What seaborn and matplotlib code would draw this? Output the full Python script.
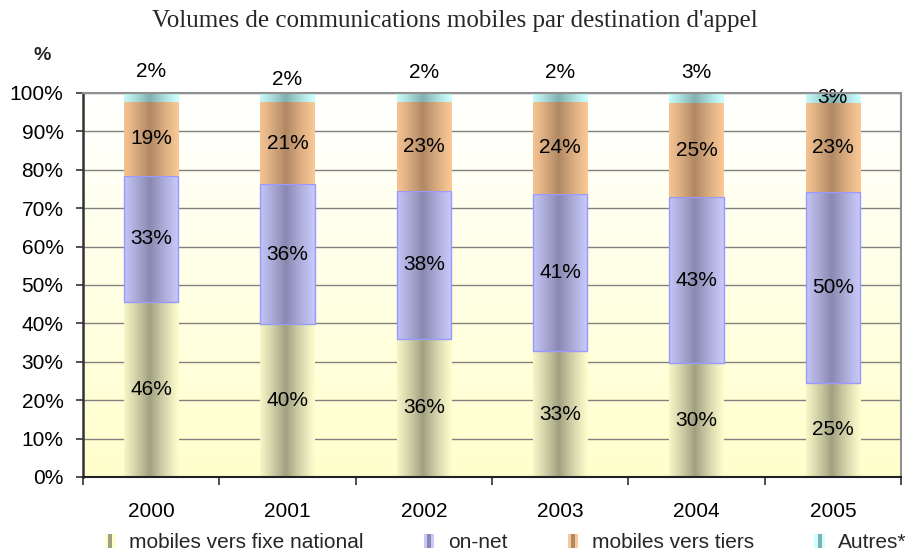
"""Volumes de communications mobiles par destination d'appel (100% stacked bars)."""
import matplotlib
matplotlib.use('Agg')
import matplotlib.pyplot as plt
import numpy as np
import pandas as pd
import seaborn as sns
from matplotlib.legend_handler import HandlerBase
from matplotlib.patches import Rectangle

years = ['2000', '2001', '2002', '2003', '2004', '2005']
fixe_national = [45.7, 39.6, 35.9, 32.8, 29.6, 24.6]
on_net = [32.8, 36.4, 38.4, 41.0, 43.2, 49.7]
vers_tiers = [19.1, 21.3, 23.1, 23.9, 24.6, 23.1]
autres = [2.4, 2.4, 2.4, 2.3, 2.6, 2.6]
series = ['mobiles vers fixe national', 'on-net', 'mobiles vers tiers', 'Autres*']

# light edge / dark centre of the "cylinder" shading
light = {'mobiles vers fixe national': '#fcfccc', 'on-net': '#c8c8fa',
         'mobiles vers tiers': '#fac896', 'Autres*': '#ccffff'}
dark = {'mobiles vers fixe national': '#a0a080', 'on-net': '#8888b0',
        'mobiles vers tiers': '#b08864', 'Autres*': '#80b0b0'}

sns.set_theme(style='white')
plt.rcParams['font.family'] = ['Liberation Sans', 'DejaVu Sans']

df = pd.DataFrame({'annee': years, series[0]: fixe_national, series[1]: on_net,
                   series[2]: vers_tiers, series[3]: autres})
shares = df[series].div(df[series].sum(axis=1), axis=0) * 100
cum = shares.cumsum(axis=1)
bottoms = cum - shares
plot_df = pd.concat([df[['annee']], shares], axis=1)


def gradient(name, n=80):
    u = np.linspace(0, 1, n)
    f = np.clip(1 - np.abs(u - 0.47) / 0.53, 0, 1) ** 1.2
    lo = np.array(matplotlib.colors.to_rgb(light[name]))
    hi = np.array(matplotlib.colors.to_rgb(dark[name]))
    return (lo[None, :] * (1 - f[:, None]) + hi[None, :] * f[:, None])[None, :, :]


fig = plt.figure(figsize=(9.09, 5.53), dpi=100)
ax = fig.add_axes([83 / 909, 1 - 477 / 553, 818 / 909, 384 / 553])

# one barplot per series, then each bar is lifted onto the previous series
for k, name in enumerate(series):
    n_before = len(ax.patches)
    sns.barplot(data=plot_df, x='annee', y=name, color=light[name], width=0.4,
                saturation=1, errorbar=None, ax=ax)
    z = 2 + k * 0.1
    for i, p in enumerate(ax.patches[n_before:]):
        p.set_y(bottoms[name][i])
        x0, w = p.get_x(), p.get_width()
        y0, h = p.get_y(), p.get_height()
        ax.imshow(gradient(name), extent=(x0, x0 + w, y0, y0 + h), aspect='auto',
                  interpolation='bilinear', zorder=z)
        p.set_zorder(z + 0.05)
        p.set_facecolor('none')
        if name == 'on-net':
            p.set_edgecolor('#9999ff')
            p.set_linewidth(1.0)
        else:
            p.set_edgecolor('none')

# background: white at top to pale yellow at bottom
bg = np.linspace(0, 1, 256)[:, None, None]
top_c = np.array([1.0, 1.0, 1.0])
bot_c = np.array([1.0, 1.0, 0.80])
ax.imshow(top_c * (1 - bg) + bot_c * bg, extent=(-0.5, 5.5, 0, 100),
          aspect='auto', zorder=0)

# data labels
autres_label_y = [105.5, 103.6, 105.3, 105.3, 105.3, None]
for name in series:
    for i in range(len(years)):
        val = df[name][i]
        y = bottoms[name][i] + shares[name][i] / 2
        if name == 'Autres*' and autres_label_y[i] is not None:
            y = autres_label_y[i]
        ax.text(i, y, f'{val:.0f}%', ha='center', va='center', fontsize=15,
                color='black', zorder=5, clip_on=False)

ax.set_xlim(-0.5, 5.5)
ax.set_ylim(0, 100)
ax.set_yticks(np.arange(0, 101, 10))
ax.set_yticklabels([f'{v}%' for v in range(0, 101, 10)])
ax.set_xticks(range(len(years)))
ax.set_xticks(np.arange(-0.5, 6, 1), minor=True)
ax.set_xlabel('')
ax.set_ylabel('')
ax.yaxis.grid(True, color='#808080', linewidth=1.0)
ax.set_axisbelow(True)
for ln in ax.get_ygridlines():
    ln.set_zorder(1)
ax.tick_params(axis='y', which='major', left=True, length=5, width=1.2,
               color='#333333', labelsize=15, pad=9, labelcolor='black')
ax.tick_params(axis='x', which='major', bottom=False, labelsize=15, pad=12,
               labelcolor='black')
ax.tick_params(axis='x', which='minor', bottom=True, length=6, width=1.2,
               color='#333333')
ax.spines['left'].set_color('#333333')
ax.spines['left'].set_linewidth(1.8)
ax.spines['bottom'].set_color('#222222')
ax.spines['bottom'].set_linewidth(1.5)
for s in ('top', 'right'):
    ax.spines[s].set_color('#909090')
    ax.spines[s].set_linewidth(1.5)
for s in ax.spines.values():
    s.set_zorder(6)


class StripeHandler(HandlerBase):
    def create_artists(self, legend, orig_handle, xdescent, ydescent, width,
                       height, fontsize, trans):
        lo, hi = orig_handle.get_facecolor(), orig_handle.get_gid()
        x0, y0 = -xdescent, -ydescent
        parts = [(0, 0.3, lo), (0.3, 0.4, hi), (0.7, 0.3, lo)]
        return [Rectangle((x0 + a * width, y0), b * width, height,
                          facecolor=c, edgecolor='none', transform=trans)
                for a, b, c in parts]


handles = []
for name in series:
    r = Rectangle((0, 0), 1, 1, facecolor=light[name])
    r.set_gid(dark[name])
    handles.append(r)
fig.legend(handles, series, loc='center', bbox_to_anchor=(506 / 909, 1 - 543 / 553),
           ncol=4, frameon=False, fontsize=15, handlelength=0.5, handleheight=0.65,
           handletextpad=0.65, columnspacing=2.9, borderpad=0,
           handler_map={Rectangle: StripeHandler()})

fig.text(455 / 909, 1 - 21 / 553, "Volumes de communications mobiles par destination d'appel",
         ha='center', va='center', fontsize=18, family=['Liberation Serif'])
fig.text(42 / 909, 1 - 56 / 553, '%', ha='center', va='center', fontsize=14,
         fontweight='bold')

fig.savefig('out.png', dpi=100)
plt.close(fig)
